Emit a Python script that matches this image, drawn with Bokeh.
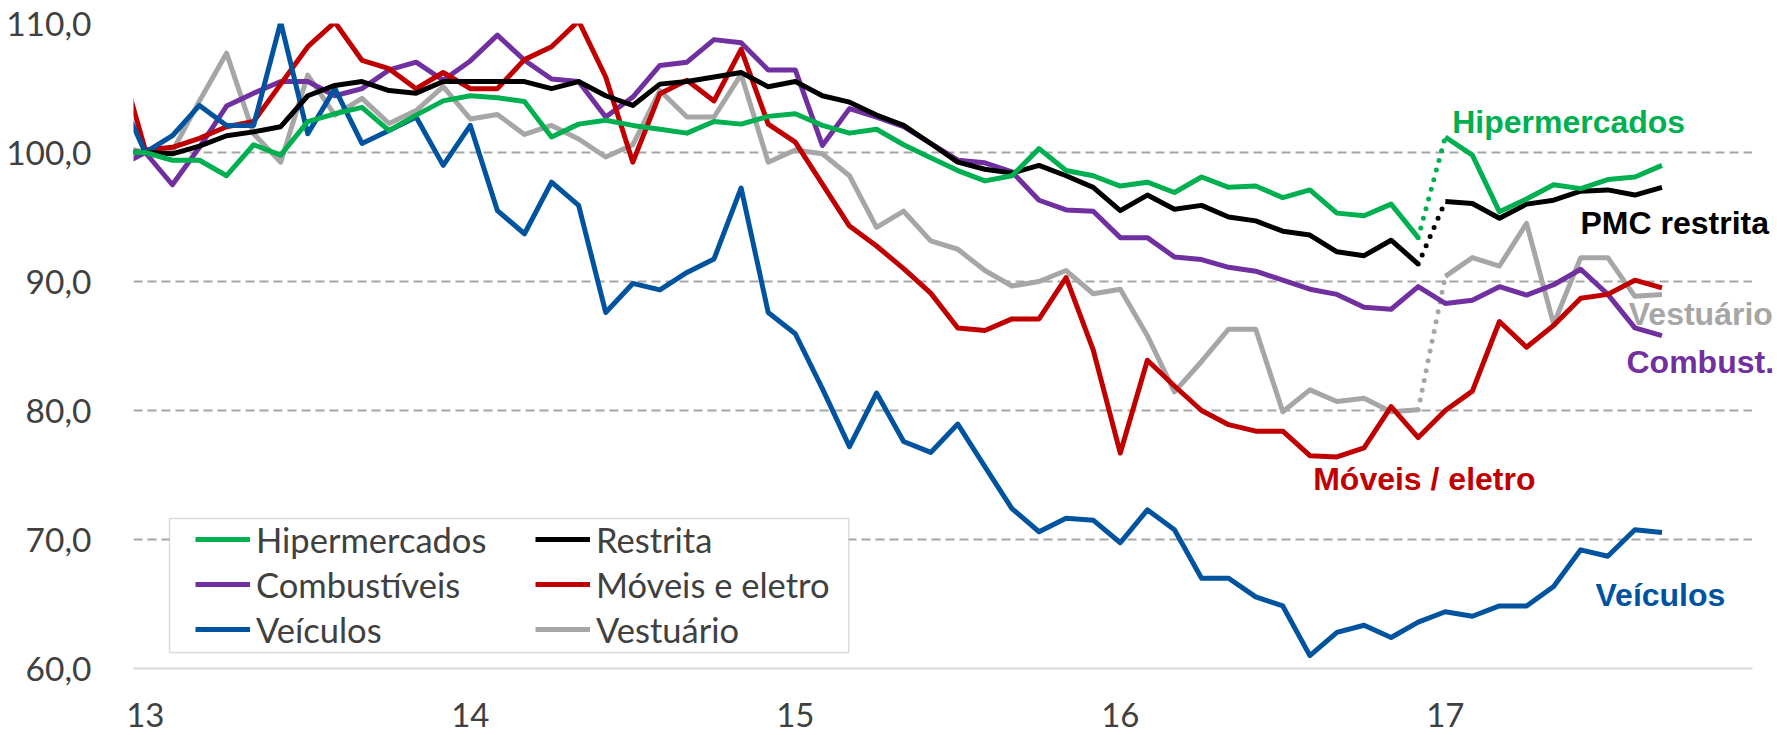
from bokeh.plotting import figure
from bokeh.models import (Range1d, FixedTicker, Legend, LegendItem, Label, BoxAnnotation)
from bokeh.embed import file_html
from bokeh.resources import INLINE

# ---------------- data ----------------
# month index relative to Jan/2013 (first point is Dec/2012)
month_index = list(range(-1, 57))
year_labels = [13, 14, 15, 16, 17]
y_ticks = [60, 70, 80, 90, 100, 110]

hipermercados = [100.0, 100.0, 99.4, 99.4, 98.2, 100.6, 99.8, 102.4, 103.0, 103.5, 101.7, 102.9, 104.0,
                 104.4, 104.25, 103.95, 101.2, 102.2, 102.5, 102.1, 101.8, 101.5, 102.4, 102.2, 102.8,
                 103.0, 102.1, 101.5, 101.8, 100.6, 99.6, 98.6, 97.8, 98.2, 100.3, 98.6, 98.2,
                 97.4, 97.7, 96.9, 98.1, 97.3, 97.4, 96.5, 97.1, 95.3, 95.1, 96.0, 93.4,
                 101.2, 99.8, 95.4, 96.4, 97.5, 97.2, 97.9, 98.1, 99.0]
restrita = [100.1, 100.0, 99.9, 100.5, 101.3, 101.6, 102.0, 104.4, 105.2, 105.5, 104.8, 104.6, 105.5,
            105.5, 105.5, 105.5, 104.95, 105.5, 104.4, 103.65, 105.3, 105.5, 105.85, 106.2, 105.1,
            105.5, 104.4, 103.9, 102.9, 102.1, 100.7, 99.25, 98.7, 98.4, 99.0, 98.2, 97.3,
            95.5, 96.7, 95.6, 95.9, 95.0, 94.7, 93.9, 93.6, 92.3, 92.0, 93.2, 91.35,
            96.2, 96.05, 94.9, 96.0, 96.3, 97.0, 97.1, 96.7, 97.3]
combustiveis = [98.9, 100.0, 97.5, 100.4, 103.6, 104.6, 105.5, 105.5, 104.4, 104.95, 106.4, 107.0, 105.6,
                107.1, 109.1, 107.15, 105.7, 105.5, 102.75, 104.3, 106.75, 107.0, 108.75, 108.5, 106.4,
                106.4, 100.55, 103.4, 102.75, 102.0, 100.7, 99.4, 99.2, 98.5, 96.3, 95.55, 95.45,
                93.4, 93.4, 91.9, 91.7, 91.1, 90.8, 90.1, 89.4, 89.0, 88.0, 87.85, 89.6,
                88.3, 88.55, 89.6, 88.95, 89.75, 90.95, 89.0, 86.4, 85.8]
moveis = [107.6, 100.2, 100.4, 101.1, 102.0, 102.4, 105.3, 108.2, 110.1, 107.15, 106.5, 104.95, 106.2,
          104.95, 104.95, 107.2, 108.2, 110.2, 105.85, 99.25, 104.55, 105.6, 104.0, 108.0, 102.2,
          100.8, 97.55, 94.3, 92.75, 91.0, 89.1, 86.4, 86.2, 87.1, 87.1, 90.3, 84.7,
          76.7, 83.9, 81.9, 80.0, 78.9, 78.4, 78.4, 76.5, 76.4, 77.1, 80.3, 77.9,
          80.0, 81.5, 86.9, 84.9, 86.6, 88.7, 89.0, 90.1, 89.5]
veiculos = [104.6, 100.0, 101.3, 103.65, 102.1, 102.1, 110.1, 101.45, 104.95, 100.7, 101.7, 102.75, 99.0,
            102.1, 95.5, 93.7, 97.7, 95.9, 87.6, 89.85, 89.35, 90.7, 91.75, 97.25, 87.6,
            85.95, 81.7, 77.2, 81.35, 77.6, 76.75, 78.95, 75.65, 72.4, 70.6, 71.65, 71.5,
            69.75, 72.3, 70.75, 67.0, 67.0, 65.55, 64.85, 61.0, 62.8, 63.35, 62.4, 63.6,
            64.4, 64.05, 64.85, 64.85, 66.35, 69.2, 68.7, 70.75, 70.55]
vestuario = [100.5, 100.0, 100.1, 104.0, 107.7, 101.45, 99.25, 106.0, 102.9, 104.2, 102.25, 103.25, 105.1,
             102.6, 102.95, 101.4, 102.1, 101.05, 99.65, 100.6, 104.8, 102.75, 102.75, 106.05, 99.25,
             100.2, 99.9, 98.2, 94.2, 95.45, 93.15, 92.5, 90.85, 89.65, 90.0, 90.85, 89.05,
             89.4, 85.8, 81.45, 83.8, 86.3, 86.3, 79.9, 81.6, 80.7, 80.95, 79.9, 80.05,
             90.4, 91.85, 91.2, 94.5, 86.7, 91.85, 91.85, 88.85, 89.0]

x = [13 + m / 12 for m in month_index]
BREAK = month_index.index(47) + 1   # series rebased in Jan/2017

# ---------------- styles ----------------
GREEN, BLACK, PURPLE = "#00B050", "#000000", "#7030A0"
RED, BLUE, GRAY = "#C00000", "#00539F", "#A6A6A6"
TICK_FONT = "Lato"
LW = 5
X_START, X_AXIS_END, X_END = 12.9637, 17.9443, 18.0222

p = figure(width=1777, height=735,
           x_range=Range1d(X_START, X_END), y_range=Range1d(60, 110),
           output_backend="svg", toolbar_location=None,
           min_border_left=133, min_border_right=0, min_border_top=23, min_border_bottom=67)
p.outline_line_color = None
p.background_fill_color = "white"

# axes
p.yaxis.ticker = FixedTicker(ticks=y_ticks)
p.yaxis.major_label_overrides = {t: f"{t},0" for t in y_ticks}
p.yaxis.axis_line_color = None
p.yaxis.major_tick_line_color = None
p.yaxis.minor_tick_line_color = None
p.yaxis.major_label_standoff = 36
p.yaxis.major_label_text_font = TICK_FONT
p.yaxis.major_label_text_font_size = "33.5px"
p.yaxis.major_label_text_color = "#404040"

p.xaxis.ticker = FixedTicker(ticks=year_labels)
p.xaxis.major_label_overrides = {t: str(t) for t in year_labels}
p.xaxis.bounds = (X_START, X_AXIS_END)
p.xaxis.axis_line_color = "#D9D9D9"
p.xaxis.axis_line_width = 2
p.xaxis.major_tick_line_color = None
p.xaxis.minor_tick_line_color = None
p.xaxis.major_label_standoff = 28
p.xaxis.major_label_text_font = TICK_FONT
p.xaxis.major_label_text_font_size = "33px"
p.xaxis.major_label_text_color = "#404040"

p.xgrid.visible = False
p.ygrid.ticker = FixedTicker(ticks=[70, 80, 90, 100, 110])
p.ygrid.grid_line_color = "#A6A6A6"
p.ygrid.grid_line_width = 2
p.ygrid.grid_line_dash = "9 5"

# white margin right of the plot area (keeps gridlines at the plot-area width)
p.add_layout(BoxAnnotation(left=X_AXIS_END, fill_color="white", fill_alpha=1.0,
                           line_alpha=0, level="underlay"))
# legend frame
p.add_layout(BoxAnnotation(left=13.0745, right=15.1646, bottom=61.24, top=71.63,
                           fill_color="white", fill_alpha=1.0,
                           line_color="#8C8C8C", line_width=1.5, level="underlay"))

renderers = {}
def draw(name, ys, color, broken):
    if broken:
        r = p.line(x[:BREAK], ys[:BREAK], line_color=color, line_width=LW, line_join="round")
        p.line(x[BREAK:], ys[BREAK:], line_color=color, line_width=LW, line_join="round")
        p.line(x[BREAK - 1:BREAK + 1], ys[BREAK - 1:BREAK + 1], line_color=color,
               line_width=5, line_dash="0 10", line_cap="round")
    else:
        r = p.line(x, ys, line_color=color, line_width=LW, line_join="round")
    renderers[name] = r

draw("Vestuário", vestuario, GRAY, True)
draw("Combustíveis", combustiveis, PURPLE, False)
draw("Móveis e eletro", moveis, RED, False)
draw("Veículos", veiculos, BLUE, False)
draw("Restrita", restrita, BLACK, True)
draw("Hipermercados", hipermercados, GREEN, True)

legend_order = ["Hipermercados", "Restrita", "Combustíveis", "Móveis e eletro", "Veículos", "Vestuário"]
legend = Legend(items=[LegendItem(label=n, renderers=[renderers[n]]) for n in legend_order],
                location=(62, 18), orientation="horizontal", ncols=2,
                padding=0, margin=0, spacing=3,
                glyph_width=55, glyph_height=42, label_height=42, label_width=276,
                label_standoff=6, border_line_alpha=0, background_fill_alpha=0,
                label_text_font=TICK_FONT, label_text_font_size="34.5px",
                label_text_color="#404040")
p.add_layout(legend, "center")

# series annotations
ann = [("Hipermercados", 17.0212, 102.36, GREEN),
       ("PMC restrita", 17.4160, 94.53, BLACK),
       ("Vestuário", 17.5646, 87.50, GRAY),
       ("Combust.", 17.5575, 83.76, PURPLE),
       ("Móveis / eletro", 16.5935, 74.66, RED),
       ("Veículos", 17.4622, 65.72, BLUE)]
for t, ax, ay, c in ann:
    p.add_layout(Label(x=ax, y=ay, text=t, text_color=c, text_font="Liberation Sans",
                       text_font_style="bold", text_font_size="32px",
                       text_align="left", text_baseline="alphabetic"))

open("out.html", "w").write(file_html(p, INLINE))
